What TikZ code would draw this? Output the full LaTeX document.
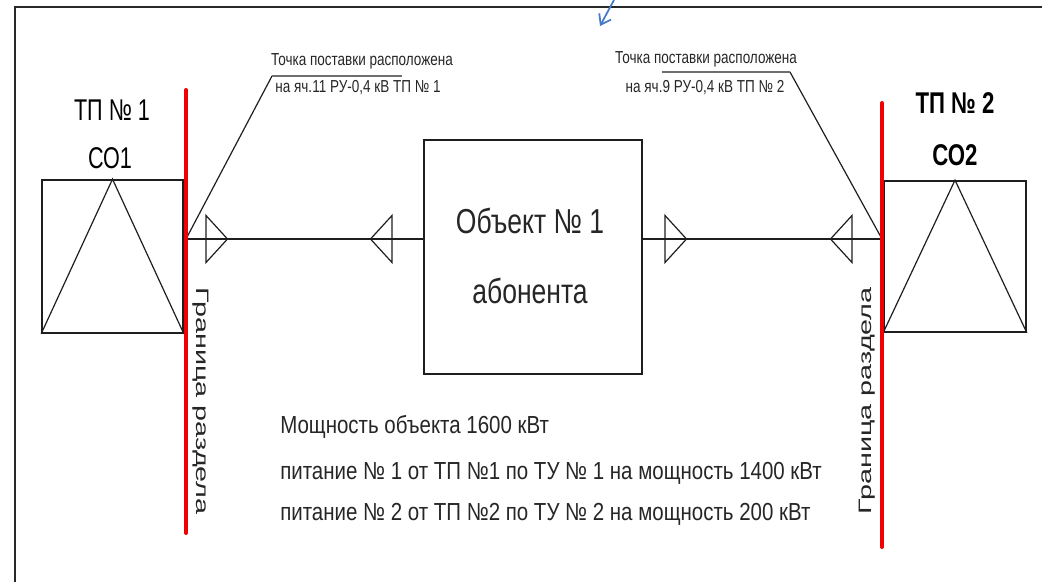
\documentclass[tikz,border=0pt]{standalone}
\usepackage{fontspec}
\setmainfont{Liberation Sans}[FakeStretch=0.83]
\newfontfamily\widefont{Liberation Sans}[FakeStretch=1.6]
\newfontfamily\titlefont{Liberation Sans}[FakeStretch=0.72]
\newfontfamily\btitlefont{Liberation Sans}[FakeStretch=0.74]
\newfontfamily\objfont{Liberation Sans}[FakeStretch=0.765]
\newfontfamily\smallfont{Liberation Sans}[FakeStretch=0.78]
\usetikzlibrary{arrows.meta}
\definecolor{frameg}{RGB}{40,40,40}
\definecolor{lineg}{RGB}{30,30,30}
\definecolor{ulg}{RGB}{110,110,110}
\definecolor{redl}{RGB}{240,0,0}
\definecolor{officeblue}{RGB}{70,120,200}
\begin{document}
\begin{tikzpicture}[x=0.75pt,y=-0.75pt,
  frame/.style={draw=frameg,line width=1.5pt},
  box/.style={draw=lineg,line width=1.3pt,inner sep=0pt},
  thinl/.style={draw=lineg,line width=0.9pt},
  wire/.style={draw=lineg,line width=1.5pt},
  redline/.style={draw=redl,line width=3pt,line cap=round},
  uline/.style={draw=ulg,line width=2.2pt},
  small/.style={font=\smallfont\fontsize{13pt}{15pt}\selectfont,inner sep=0pt,text=black!85},
  title/.style={font=\titlefont\fontsize{22.5pt}{26pt}\selectfont,inner sep=0pt},
  btitle/.style={font=\btitlefont\fontsize{22.5pt}{26pt}\selectfont\bfseries,inner sep=0pt},
  info/.style={font=\fontsize{18.5pt}{22pt}\selectfont,inner sep=0pt,anchor=west,text=black!85},
  vert/.style={font=\widefont\fontsize{13.5pt}{15pt}\selectfont,inner sep=0pt,text=black!85},
  trir/.pic={\draw[thinl] (0,-23.5) -- (21.5,0) -- (0,23.5) -- cycle;},
  tril/.pic={\draw[thinl] (0,-23.5) -- (-21.5,0) -- (0,23.5) -- cycle;}
]
\useasboundingbox (0,0) rectangle (1042,582);
% frame
\draw[frame] (15,582) -- (15,7) -- (1042,7);
% blue arrow artifact
\coordinate (ba1) at (614,0);
\coordinate (ba2) at (600,26);
\draw[draw=officeblue,line width=1.3pt,-{Straight Barb[length=7pt,width=10pt]}] (ba1) -- (ba2);

% TP boxes
\node[box,minimum width=105.75pt,minimum height=114.75pt] (tp1) at (112.5,256.5) {};
\draw[thinl] (tp1.south west) -- (tp1.north) -- (tp1.south east);
\node[box,minimum width=106.5pt,minimum height=113.25pt] (tp2) at (955,256.5) {};
\draw[thinl] (tp2.south west) -- (tp2.north) -- (tp2.south east);

% object box
\node[box,minimum width=163.5pt,minimum height=175.5pt] (obj) at (533,257) {};
\node[font=\objfont\fontsize{26pt}{52.5pt}\selectfont,align=center,inner sep=0pt,text=black!85] (objt) at (530,256) {Объект № 1\\абонента};

% titles
\node[title] (t1a) at (112,110) {ТП № 1};
\node[title] (t1b) at (110,158) {СО1};
\node[btitle] (t2a) at (955,103) {ТП № 2};
\node[btitle] (t2b) at (955,155) {СО2};

% red boundary lines
\coordinate (r1t) at (186,90);
\coordinate (r1b) at (186,533);
\coordinate (r2t) at (882,103);
\coordinate (r2b) at (882,547);

% junctions
\coordinate (j1) at (186,239);
\coordinate (j2) at (882,239);

% wires
\draw[wire] (j1) -- (obj.west |- j1);
\draw[wire] (obj.east |- j2) -- (j2);
\draw[wire,line width=2pt] (308,239) -- (337,239);

% triangles
\pic at (206,239) {trir};
\pic at (392,239) {tril};
\pic at (665,239) {trir};
\pic at (852,239) {tril};

% leaders
\coordinate (l1a) at (272,76);
\coordinate (l1b) at (402,76);
\coordinate (l2a) at (662,72);
\coordinate (l2b) at (790,72);
\draw[thinl] (j1) -- (l1a);
\draw[uline] (l1a) -- (l1b);
\draw[thinl] (j2) -- (l2b);
\draw[uline] (l2a) -- (l2b);

\draw[redline] (r1t) -- (r1b);
\draw[redline] (r2t) -- (r2b);

\node[small] (n1a) at (362,61) {Точка поставки расположена};
\node[small] (n1b) at (358,88) {на яч.11 РУ-0,4 кВ ТП № 1};
\node[small] (n2a) at (706,59) {Точка поставки расположена};
\node[small] (n2b) at (705,88) {на яч.9 РУ-0,4 кВ ТП № 2};

% vertical labels
\node[vert,rotate=-90] (v1) at (201,401) {Граница раздела};
\node[vert,rotate=90] (v2) at (867,401) {Граница раздела};

% info text
\node[info] (i1) at (280,427) {Мощность объекта 1600 кВт};
\node[info] (i2) at (280,473) {питание № 1 от ТП №1 по ТУ № 1 на мощность 1400 кВт};
\node[info] (i3) at (280,514) {питание № 2 от ТП №2 по ТУ № 2 на мощность 200 кВт};
\end{tikzpicture}
\end{document}
